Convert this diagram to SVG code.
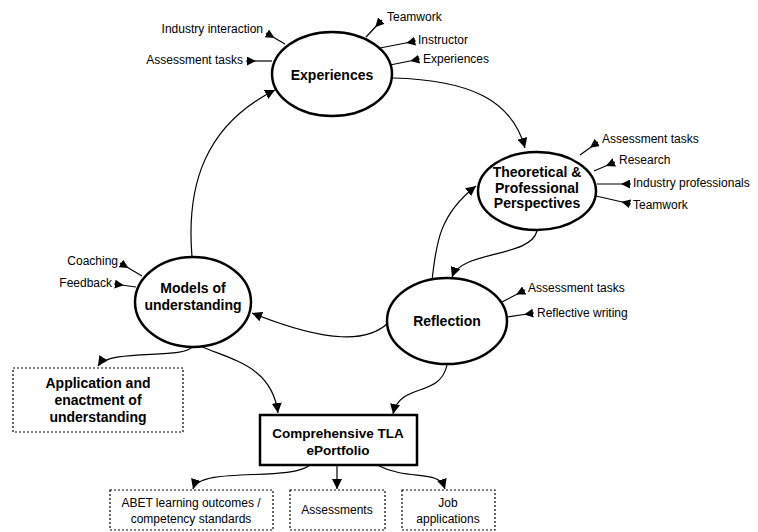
<svg xmlns="http://www.w3.org/2000/svg" width="758" height="532" viewBox="0 0 758 532">
<defs>
<marker id="arr" viewBox="0 0 10 10" refX="10" refY="5" markerWidth="10" markerHeight="10" markerUnits="userSpaceOnUse" orient="auto"><path d="M0,0 L10,5 L0,10 z" fill="#000"/></marker>
<marker id="inArr" viewBox="0 0 10 10" refX="-1" refY="5" markerWidth="9" markerHeight="9" markerUnits="userSpaceOnUse" orient="auto"><path d="M0,0 L10,5 L0,10 z" fill="#000"/></marker>
</defs>
<style>
.node{fill:#fff;stroke:#000;stroke-width:2.5}
.box{fill:#fff;stroke:#000;stroke-width:1.2;stroke-dasharray:2 2}
.main{fill:#fff;stroke:#000;stroke-width:2.5}
.t{font-family:"Liberation Sans",Arial,sans-serif;font-weight:bold;font-size:14px;text-anchor:middle;fill:#000}
.s{font-family:"Liberation Sans",Arial,sans-serif;font-size:12px;fill:#000}
.b{font-family:"Liberation Sans",Arial,sans-serif;font-size:12px;text-anchor:middle;fill:#000}
.c{fill:none;stroke:#000;stroke-width:1.2;marker-end:url(#arr)}
.i{fill:none;stroke:#000;stroke-width:1.2;marker-start:url(#inArr)}
</style>
<rect width="758" height="532" fill="#fff"/>
<g id="connectors">
<path class="c" d="M192,257 C186,185 205,125 275,90"/>
<path class="c" d="M393,78 C470,80 512,100 525,148"/>
<path class="c" d="M537,231 C530,258 462,250 452,277"/>
<path class="c" d="M432,281 C436,242 440,214 476,186"/>
<path class="c" d="M388,323 C368,342 330,344 252,313"/>
<path class="c" d="M193,346 C185,360 110,348 98,366"/>
<path class="c" d="M200,346 C232,360 272,366 278,413"/>
<path class="c" d="M447,365 C440,398 400,382 393,414"/>
<path class="c" d="M310,465 C290,482 200,466 193,489"/>
<path class="c" d="M337,465 L337,489"/>
<path class="c" d="M377,465 C410,482 438,468 445,489"/>
<path class="i" d="M266,33 L285,44"/>
<path class="i" d="M246,61 L272,61"/>
<path class="i" d="M382,20 L366,37"/>
<path class="i" d="M416,41 L380,48"/>
<path class="i" d="M420,59 L390,65"/>
<path class="i" d="M598,142 L580,155"/>
<path class="i" d="M615,162 L594,171"/>
<path class="i" d="M631,184 L597,184"/>
<path class="i" d="M631,204 L596,196"/>
<path class="i" d="M525,290 L502,302"/>
<path class="i" d="M534,313 L507,317"/>
<path class="i" d="M120,263 L142,276"/>
<path class="i" d="M114,284 L136,287"/>
</g>
<g id="experiences">
<ellipse class="node" cx="332" cy="74" rx="60" ry="42"/>
<text class="t" x="332" y="80">Experiences</text>
<text class="s" x="263" y="33" text-anchor="end">Industry interaction</text>
<text class="s" x="243" y="64" text-anchor="end">Assessment tasks</text>
<text class="s" x="387" y="21">Teamwork</text>
<text class="s" x="418" y="44">Instructor</text>
<text class="s" x="423" y="63">Experiences</text>
</g>
<g id="theoretical">
<ellipse class="node" cx="537" cy="191" rx="59" ry="39"/>
<text class="t" x="537" y="177">Theoretical &amp;</text>
<text class="t" x="537" y="193">Professional</text>
<text class="t" x="537" y="208">Perspectives</text>
<text class="s" x="602" y="143">Assessment tasks</text>
<text class="s" x="619" y="164">Research</text>
<text class="s" x="633" y="187">Industry professionals</text>
<text class="s" x="633" y="209">Teamwork</text>
</g>
<g id="models">
<ellipse class="node" cx="193" cy="302" rx="58" ry="45"/>
<text class="t" x="193" y="293">Models of</text>
<text class="t" x="193" y="310">understanding</text>
<text class="s" x="118" y="265" text-anchor="end">Coaching</text>
<text class="s" x="112" y="287" text-anchor="end">Feedback</text>
</g>
<g id="reflection">
<ellipse class="node" cx="447" cy="321" rx="60" ry="43"/>
<text class="t" x="447" y="326">Reflection</text>
<text class="s" x="528" y="292">Assessment tasks</text>
<text class="s" x="537" y="317">Reflective writing</text>
</g>
<g id="application">
<rect class="box" x="13" y="368" width="170" height="64"/>
<text class="t" x="98" y="388">Application and</text>
<text class="t" x="98" y="405">enactment of</text>
<text class="t" x="98" y="422">understanding</text>
</g>
<g id="portfolio">
<rect class="main" x="260" y="415" width="157" height="50"/>
<text class="t" x="338" y="438" style="font-size:13.5px">Comprehensive TLA</text>
<text class="t" x="338" y="455" style="font-size:13.5px">ePortfolio</text>
</g>
<g id="abet">
<rect class="box" x="110" y="490" width="163" height="40"/>
<text class="b" x="191" y="507">ABET learning outcomes /</text>
<text class="b" x="191" y="523">competency standards</text>
</g>
<g id="assessments">
<rect class="box" x="290" y="490" width="95" height="40"/>
<text class="b" x="337" y="514">Assessments</text>
</g>
<g id="job">
<rect class="box" x="402" y="490" width="93" height="40"/>
<text class="b" x="448" y="507">Job</text>
<text class="b" x="448" y="523">applications</text>
</g>
</svg>
